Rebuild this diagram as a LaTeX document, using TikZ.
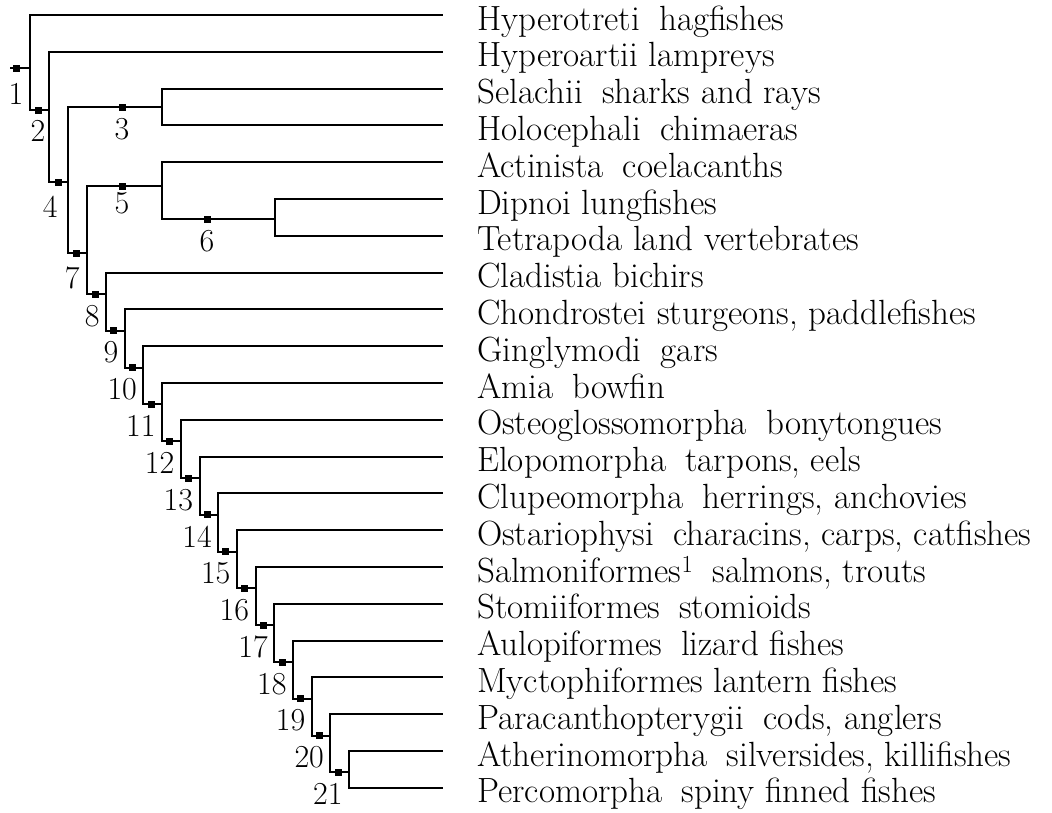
\documentclass[tikz,border=0pt]{standalone}
\usepackage{fontspec}
\usepackage{tikz}
\usetikzlibrary{positioning}
\newcommand{\tgap}{\hspace{0.55em}}
\tikzset{
  br/.style={line width=2pt},
  mk/.style={fill,minimum size=7pt,inner sep=0pt},
  num/.style={font=\fontsize{32}{36}\selectfont,inner sep=0pt},
  taxon/.style={anchor=base west,font=\fontsize{35}{38}\selectfont,inner sep=0pt},
}

\begin{document}
\begin{tikzpicture}[x=1pt,y=-1pt]
\useasboundingbox (0,0) rectangle (1052,812);
\foreach \i in {1,...,22} \coordinate (l\i) at (443,{15+(\i-1)*36.8});
\coordinate (r0) at (10,68);
\foreach \k/\x/\y in {1/30/68,2/49/110,3/162/107,4/68/182,5/162/186,6/275/219,7/87/253} \coordinate (j\k) at (\x,\y);
\foreach \k in {8,...,21} \coordinate (j\k) at ({106+(\k-8)*18.7},{294+(\k-8)*36.8});
\draw[br] (r0) -- (j1);
\foreach \a/\b in {j1/l1,j1/j2,j2/l2,j2/j4,j4/j3,j4/j7,j3/l3,j3/l4,j7/j5,j7/j8,j5/l5,j5/j6,j6/l6,j6/l7} \draw[br] (\a) |- (\b);
\foreach \k [evaluate=\k as \n using int(\k+1)] in {8,...,20} {\draw[br] (j\k) |- (l\k); \draw[br] (j\k) |- (j\n);}
\draw[br] (j21) |- (l21); \draw[br] (j21) |- (l22);
\foreach \k/\x/\y in {1/16/68,2/38/110,3/122/107,4/58/182,5/122/186,6/207/219,7/76/253} \node[mk] (m\k) at (\x,\y) {};
\foreach \k in {8,...,21} \node[mk] (m\k) at ([xshift=-11pt]j\k) {};
\foreach \k/\d in {1/11pt,2/6pt,3/7pt,5/2pt,6/7pt} \node[num,below=\d of m\k] (c\k) {\k};
\node[num,anchor=north east] (c4) at ([shift={(-4,10)}]m4.south east) {4};
\node[num,anchor=north east] (c7) at ([shift={(0,10)}]m7.south east) {7};
\foreach \k in {8,...,21} \node[num,anchor=north east] (c\k) at ([shift={(1,7)}]m\k.south east) {\k};
\foreach \t [count=\i] in {{Hyperotreti\tgap hagfishes},{Hyperoartii lampreys},{Selachii\tgap sharks and rays},{Holocephali\tgap chimaeras},{Actinista\tgap coelacanths},{Dipnoi lungfishes},{Tetrapoda land vertebrates},{Cladistia bichirs},{Chondrostei sturgeons, paddlefishes},{Ginglymodi\tgap gars},{Amia\tgap bowfin},{Osteoglossomorpha\tgap bonytongues},{Elopomorpha\tgap tarpons, eels},{Clupeomorpha\tgap herrings, anchovies},{Ostariophysi\tgap characins, carps, catfishes},{Salmoniformes\textsuperscript{1}\tgap salmons, trouts},{Stomiiformes\tgap stomioids},{Aulopiformes\tgap lizard fishes},{Myctophiformes lantern fishes},{Paracanthopterygii\tgap cods, anglers},{Atherinomorpha\tgap silversides, killifishes},{Percomorpha\tgap spiny finned fishes}}
  \node[taxon] (t\i) at ([xshift=34pt,yshift=-15pt]l\i) {\t};
\end{tikzpicture}
\end{document}
